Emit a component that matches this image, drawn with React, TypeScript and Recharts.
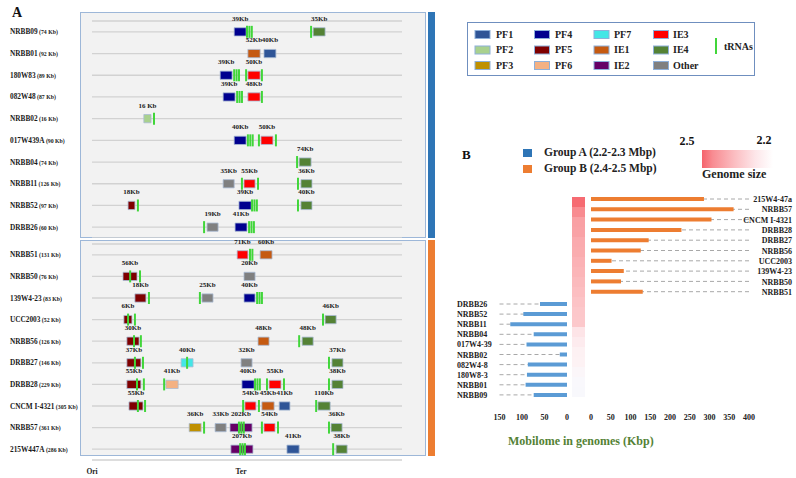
import React from 'react';
import { ComposedChart, BarChart, Bar, Scatter, XAxis, YAxis, CartesianGrid, ReferenceArea } from 'recharts';

const FONT = "'Liberation Serif', 'Times New Roman', serif";

// ---- panel A: strains in each box, top to bottom ----
const topNames = ['NRBB09', 'NRBB01', '180W83', '082W48', 'NRBB02', '017W439A', 'NRBB04', 'NRBB11', 'NRBB52', 'DRBB26'];
const topMobilome = [74, 92, 89, 87, 16, 90, 74, 126, 97, 60];
const topGenome = ['2.2', '2.2', '2.2', '2.2', '2.2', '2.3', '2.3', '2.3', '2.3', '2.3'];

const bottomNames = ['NRBB51', 'NRBB50', '139W4-23', 'UCC2003', 'NRBB56', 'DRBB27', 'DRBB28', 'CNCM I-4321', 'NRBB57', '215W447A'];
const bottomMobilome = [131, 76, 83, 52, 126, 146, 229, 305, 361, 286];
const bottomGenome = ['2.4', '2.4', '2.4', '2.4', '2.4', '2.4', '2.4', '2.4', '2.5', '2.5'];

// map position goes 0 (Ori) .. 50 (Ter) .. 104
const mapTicks = [0, 50];
const mapTickLabels = ['Ori', 'Ter'];

// mobile elements: row, start/end on the map, family, size label
const topBlocks = [
  { row: 0, start: 47.7, end: 51.7, family: 'PF4', label: '39Kb' },
  { row: 0, start: 74.2, end: 78.2, family: 'IE4', label: '35Kb' },
  { row: 1, start: 52.3, end: 56.4, family: 'IE1', label: '52Kb' },
  { row: 1, start: 57.7, end: 61.7, family: 'PF1', label: '40Kb' },
  { row: 2, start: 43.0, end: 47.0, family: 'PF4', label: '39Kb' },
  { row: 2, start: 52.3, end: 56.4, family: 'IE3', label: '50Kb' },
  { row: 3, start: 44.0, end: 48.0, family: 'PF4', label: '39Kb' },
  { row: 3, start: 52.3, end: 56.4, family: 'IE3', label: '48Kb' },
  { row: 4, start: 17.4, end: 19.8, family: 'PF2', label: '16 Kb' },
  { row: 5, start: 47.7, end: 51.7, family: 'PF4', label: '40Kb' },
  { row: 5, start: 56.7, end: 60.7, family: 'IE3', label: '50Kb' },
  { row: 6, start: 69.5, end: 73.5, family: 'IE4', label: '74Kb' },
  { row: 7, start: 44.0, end: 47.7, family: 'Other', label: '35Kb' },
  { row: 7, start: 51.0, end: 54.7, family: 'IE3', label: '55Kb' },
  { row: 7, start: 70.1, end: 73.8, family: 'IE4', label: '36Kb' },
  { row: 8, start: 12.1, end: 14.4, family: 'PF5', label: '18Kb' },
  { row: 8, start: 49.3, end: 53.4, family: 'PF4', label: '39Kb' },
  { row: 8, start: 70.1, end: 73.8, family: 'IE4', label: '40Kb' },
  { row: 9, start: 38.6, end: 42.3, family: 'Other', label: '19Kb' },
  { row: 9, start: 48.0, end: 52.0, family: 'PF4', label: '41Kb' },
];

const bottomBlocks = [
  { row: 0, start: 48.7, end: 52.3, family: 'IE3', label: '71Kb' },
  { row: 0, start: 56.4, end: 60.4, family: 'IE1', label: '60Kb' },
  { row: 1, start: 10.4, end: 15.1, family: 'PF5', label: '56Kb' },
  { row: 1, start: 51.0, end: 54.7, family: 'Other', label: '20Kb' },
  { row: 2, start: 14.4, end: 18.1, family: 'PF5', label: '18Kb' },
  { row: 2, start: 36.9, end: 40.6, family: 'Other', label: '25Kb' },
  { row: 2, start: 51.0, end: 54.7, family: 'PF4', label: '40Kb' },
  { row: 3, start: 10.7, end: 13.4, family: 'PF5', label: '6Kb' },
  { row: 3, start: 78.2, end: 81.9, family: 'IE4', label: '46Kb' },
  { row: 4, start: 11.7, end: 15.8, family: 'PF5', label: '30Kb' },
  { row: 4, start: 55.7, end: 59.4, family: 'IE1', label: '48Kb' },
  { row: 4, start: 70.5, end: 74.2, family: 'IE4', label: '48Kb' },
  { row: 5, start: 11.7, end: 16.4, family: 'PF5', label: '37Kb' },
  { row: 5, start: 29.9, end: 33.9, family: 'PF7', label: '40Kb' },
  { row: 5, start: 50.0, end: 53.7, family: 'Other', label: '32Kb' },
  { row: 5, start: 80.5, end: 84.2, family: 'IE4', label: '37Kb' },
  { row: 6, start: 11.7, end: 16.4, family: 'PF5', label: '55Kb' },
  { row: 6, start: 24.8, end: 28.9, family: 'PF6', label: '41Kb' },
  { row: 6, start: 50.3, end: 54.4, family: 'PF4', label: '40Kb' },
  { row: 6, start: 59.4, end: 63.4, family: 'IE3', label: '55Kb' },
  { row: 6, start: 80.5, end: 84.2, family: 'IE4', label: '38Kb' },
  { row: 7, start: 12.4, end: 17.1, family: 'PF5', label: '55Kb' },
  { row: 7, start: 51.3, end: 55.0, family: 'IE3', label: '54Kb' },
  { row: 7, start: 57.0, end: 61.1, family: 'IE1', label: '45Kb' },
  { row: 7, start: 62.8, end: 66.4, family: 'PF1', label: '41Kb' },
  { row: 7, start: 75.8, end: 79.9, family: 'IE4', label: '110Kb' },
  { row: 8, start: 32.6, end: 36.6, family: 'PF3', label: '36Kb' },
  { row: 8, start: 41.3, end: 45.0, family: 'Other', label: '33Kb' },
  { row: 8, start: 46.3, end: 53.7, family: 'IE2', label: '202Kb' },
  { row: 8, start: 57.7, end: 61.4, family: 'IE3', label: '54Kb' },
  { row: 8, start: 80.2, end: 83.9, family: 'IE4', label: '36Kb' },
  { row: 9, start: 46.6, end: 54.0, family: 'IE2', label: '207Kb' },
  { row: 9, start: 65.4, end: 69.5, family: 'PF1', label: '41Kb' },
  { row: 9, start: 81.9, end: 85.6, family: 'IE4', label: '38Kb' },
];

// tRNA loci (n = tRNAs side by side)
const topTrnas = [
  { row: 0, pos: 52.0, n: 3 }, { row: 0, pos: 73.5, n: 1 },
  { row: 2, pos: 47.7, n: 3 }, { row: 2, pos: 51.7, n: 1 }, { row: 2, pos: 57.0, n: 1 },
  { row: 3, pos: 48.7, n: 3 }, { row: 3, pos: 57.0, n: 1 },
  { row: 4, pos: 20.8, n: 1 },
  { row: 5, pos: 52.3, n: 3 }, { row: 5, pos: 56.0, n: 1 }, { row: 5, pos: 61.7, n: 1 },
  { row: 6, pos: 68.8, n: 1 },
  { row: 7, pos: 50.3, n: 1 }, { row: 7, pos: 55.7, n: 1 }, { row: 7, pos: 69.1, n: 1 },
  { row: 8, pos: 15.4, n: 1 }, { row: 8, pos: 53.7, n: 3 }, { row: 8, pos: 69.1, n: 1 },
  { row: 9, pos: 37.6, n: 1 }, { row: 9, pos: 52.7, n: 3 },
];

const bottomTrnas = [
  { row: 0, pos: 53.0, n: 2 },
  { row: 1, pos: 12.8, n: 1 }, { row: 1, pos: 16.1, n: 1 },
  { row: 2, pos: 19.1, n: 1 }, { row: 2, pos: 36.2, n: 1 }, { row: 2, pos: 55.4, n: 3 },
  { row: 3, pos: 12.1, n: 1 }, { row: 3, pos: 14.4, n: 1 }, { row: 3, pos: 77.5, n: 1 },
  { row: 4, pos: 14.1, n: 1 }, { row: 4, pos: 16.4, n: 1 }, { row: 4, pos: 69.5, n: 1 },
  { row: 5, pos: 14.4, n: 1 }, { row: 5, pos: 17.1, n: 1 }, { row: 5, pos: 31.9, n: 1 }, { row: 5, pos: 79.5, n: 1 },
  { row: 6, pos: 15.1, n: 1 }, { row: 6, pos: 17.4, n: 1 }, { row: 6, pos: 24.2, n: 1 }, { row: 6, pos: 54.7, n: 3 },
  { row: 6, pos: 58.7, n: 1 }, { row: 6, pos: 64.4, n: 1 }, { row: 6, pos: 79.5, n: 1 },
  { row: 7, pos: 15.4, n: 1 }, { row: 7, pos: 17.8, n: 1 }, { row: 7, pos: 50.7, n: 1 }, { row: 7, pos: 56.0, n: 1 }, { row: 7, pos: 75.2, n: 1 },
  { row: 8, pos: 37.6, n: 1 }, { row: 8, pos: 49.3, n: 3 }, { row: 8, pos: 57.0, n: 1 }, { row: 8, pos: 62.4, n: 1 }, { row: 8, pos: 79.5, n: 1 },
  { row: 9, pos: 49.7, n: 3 }, { row: 9, pos: 80.9, n: 1 },
];

const rowTicks = [0, 1, 2, 3, 4, 5, 6, 7, 8, 9];

// ---- panel B ----
const groupBNames = ['215W4-47a', 'NRBB57', 'CNCM  I-4321', 'DRBB28', 'DRBB27', 'NRBB56', 'UCC2003', '139W4-23', 'NRBB50', 'NRBB51'];
const groupBMobilome = [286, 361, 305, 229, 146, 126, 52, 83, 76, 131];
const groupBGenome = [2.5, 2.5, 2.4, 2.4, 2.4, 2.4, 2.4, 2.4, 2.4, 2.4];

const groupANames = ['DRBB26', 'NRBB52', 'NRBB11', 'NRBB04', '017W4-39', 'NRBB02', '082W4-8', '180W8-3', 'NRBB01', 'NRBB09'];
const groupAMobilome = [60, 97, 126, 74, 90, 16, 87, 89, 92, 74];
const groupAGenome = [2.3, 2.3, 2.3, 2.3, 2.3, 2.2, 2.2, 2.2, 2.2, 2.2];

const leftTicks = [0, 50, 100, 150];
const rightTicks = [0, 50, 100, 150, 200, 250, 300, 350, 400];

// styles
const familyColors: Record<string, string> = {
  PF1: '#2F5597', PF2: '#A9D18E', PF3: '#BF9000', PF4: '#00008F',
  PF5: '#7F0000', PF6: '#F4B183', PF7: '#44E6E6', IE1: '#C55A11',
  IE2: '#660066', IE3: '#FF0000', IE4: '#548235', Other: '#808080',
};
const legendColumns = [['PF1', 'PF2', 'PF3'], ['PF4', 'PF5', 'PF6'], ['PF7', 'IE1', 'IE2'], ['IE3', 'IE4', 'Other']];
const TRNA = '#41D63A';
const heatColors = [
  '#F66B72', '#F88B90', '#F9A0A4', '#F9A2A6', '#FAAAAE', '#FAACAF', '#FBB1B5', '#FBB5B8', '#FBBABD', '#FCBEC1',
  '#FCC3C6', '#FCC7CA', '#FCC8CB', '#FDE4E7', '#FDEBEE', '#FDF1F3', '#FDF2F4', '#FBF6F9', '#F9F8FC', '#F8F8FC',
];

function RowLabel(props: any) {
  const { y, payload, names, mobilome } = props;
  const i = payload.value;
  return (
    <text x={10} y={y} dy={2.5} fontFamily={FONT} fontWeight={700} fill="#1a1a1a">
      <tspan fontSize={7.3}>{names[i]}</tspan>
      <tspan fontSize={5.8}>{` (${mobilome[i]} Kb)`}</tspan>
    </text>
  );
}

function TrnaMark(props: any) {
  const { cx, cy, payload } = props;
  const lines = [];
  for (let i = 0; i < payload.n; i++) {
    const x = cx + i * 2.4;
    lines.push(<line key={i} x1={x} x2={x} y1={cy - 6} y2={cy + 6} stroke={TRNA} strokeWidth={2} />);
  }
  return <g>{lines}</g>;
}

function GenomeMap({ names, mobilome, genome, blocks, trnas, height, marginTop, showOriTer }: any) {
  return (
    <ComposedChart width={440} height={height} margin={{ top: marginTop, right: 0, bottom: 0, left: 0 }}>
      <CartesianGrid yAxisId="left" vertical={false} stroke="#d2d2d2" strokeWidth={1.3} />
      <XAxis
        type="number"
        dataKey="pos"
        domain={[0, 104]}
        ticks={mapTicks}
        interval={0}
        hide={!showOriTer}
        height={24}
        axisLine={false}
        tickLine={false}
        tickSize={0}
        tickMargin={9}
        tickFormatter={(v: number) => mapTickLabels[mapTicks.indexOf(v)]}
        tick={{ fontSize: 7.5, fontWeight: 700, fill: '#222', fontFamily: FONT }}
      />
      <YAxis
        yAxisId="left"
        type="number"
        dataKey="row"
        domain={[-0.5, 9.5]}
        reversed
        ticks={rowTicks}
        interval={0}
        width={92}
        axisLine={false}
        tickLine={false}
        tick={<RowLabel names={names} mobilome={mobilome} />}
      />
      <YAxis
        yAxisId="right"
        orientation="right"
        type="number"
        domain={[-0.5, 9.5]}
        reversed
        ticks={rowTicks}
        interval={0}
        width={38}
        axisLine={false}
        tickLine={false}
        tickSize={0}
        tickMargin={8}
        tickFormatter={(v: number) => genome[v]}
        tick={{ fontSize: 6, fontWeight: 700, fill: '#333', fontFamily: FONT }}
      />
      {blocks.map((b: any, i: number) => (
        <ReferenceArea
          key={i}
          yAxisId="left"
          x1={b.start}
          x2={b.end}
          y1={b.row - 0.19}
          y2={b.row + 0.19}
          fill={familyColors[b.family]}
          fillOpacity={1}
          stroke="#a9bbd4"
          strokeWidth={0.8}
          ifOverflow="visible"
          label={{ value: b.label, position: 'top', offset: 7, fontSize: 7, fontWeight: 700, fill: '#1a1a1a', fontFamily: FONT }}
        />
      ))}
      <Scatter yAxisId="left" data={trnas} shape={<TrnaMark />} isAnimationActive={false} />
    </ComposedChart>
  );
}

function DashGuide(props: any) {
  const { x, y, width, height } = props;
  const my = y + height / 2;
  return <line x1={x} x2={x + width} y1={my} y2={my} stroke="#a8a8a8" strokeWidth={1} strokeDasharray="4 3" />;
}

function NameTick(props: any) {
  const { x, y, payload, anchor, shift } = props;
  return (
    <text x={x + shift} y={y} dy={3} textAnchor={anchor} fontSize={8} fontWeight={700} fontFamily={FONT} fill="#222">
      {payload.value}
    </text>
  );
}

function HeatCell(props: any) {
  const { background, x, y, height, index } = props;
  const bx = background ? background.x : x;
  const bw = background ? background.width : 13;
  return <rect x={bx} y={y} width={bw} height={height} fill={heatColors[index]} />;
}

const axisTick = { fontSize: 8, fontWeight: 700, fill: '#222', fontFamily: FONT };

export default function App() {
  const groupA = groupANames.map((name, i) => ({ name, kb: groupAMobilome[i] }));
  const groupB = groupBNames.map((name, i) => ({ name, kb: groupBMobilome[i] }));
  const heat = [
    ...groupBNames.map((name, i) => ({ name, size: groupBGenome[i] })),
    ...groupANames.map((name, i) => ({ name, size: groupAGenome[i] })),
  ];

  return (
    <div style={{ position: 'absolute', left: 0, top: 0, width: 796, height: 478, background: '#fff', fontFamily: FONT }}>
      <svg width={796} height={478} style={{ position: 'absolute', left: 0, top: 0 }}>
        <defs>
          <linearGradient id="genomeSize" x1="0" x2="1" y1="0" y2="0">
            <stop offset="0" stopColor="#F5636C" />
            <stop offset="0.15" stopColor="#F88C92" />
            <stop offset="0.45" stopColor="#FBBCC0" />
            <stop offset="0.75" stopColor="#FDE6E9" />
            <stop offset="1" stopColor="#FFFFFF" />
          </linearGradient>
        </defs>
        <text x={12} y={17} fontSize={14} fontWeight={700} fill="#111">A</text>
        <rect x={80.5} y={12.5} width={345} height={225} fill="#F2F2F2" stroke="#9DB7D8" />
        <rect x={428} y={12} width={7} height={226} fill="#2E75B6" />
        <rect x={80.5} y={240.5} width={345} height={215} fill="#F2F2F2" stroke="#9DB7D8" />
        <rect x={428} y={240} width={7} height={216} fill="#ED7D31" />

        <rect x={467.5} y={22.5} width={287} height={53} fill="#fff" stroke="#6F8FBF" />
        {legendColumns.map((col, c) =>
          col.map((fam, r) => (
            <g key={fam}>
              <rect x={475 + c * 59.5} y={30.5 + r * 15.5} width={15} height={8} fill={familyColors[fam]} stroke="#8EB0DA" strokeWidth={1} />
              <text x={496 + c * 59} y={37.5 + r * 15.5} fontSize={10} fontWeight={700} fill="#222">{fam}</text>
            </g>
          ))
        )}
        <line x1={716} x2={716} y1={38} y2={54} stroke={TRNA} strokeWidth={2} />
        <text x={724} y={49.5} fontSize={10} fontWeight={700} fill="#222">tRNAs</text>

        <text x={462} y={158.5} fontSize={13} fontWeight={700} fill="#111">B</text>
        <rect x={523} y={149} width={9} height={8} fill="#2E75B6" />
        <text x={544} y={156} fontSize={11.5} fontWeight={700} fill="#222">Group A (2.2-2.3 Mbp)</text>
        <rect x={523} y={165} width={9} height={8} fill="#ED7D31" />
        <text x={544} y={172} fontSize={11.5} fontWeight={700} fill="#222">Group B (2.4-2.5 Mbp)</text>
        <text x={687} y={145} fontSize={12} fontWeight={700} fill="#111" textAnchor="middle">2.5</text>
        <text x={764} y={144} fontSize={12} fontWeight={700} fill="#111" textAnchor="middle">2.2</text>
        <rect x={702} y={150} width={71} height={18} fill="url(#genomeSize)" />
        <text x={702} y={178} fontSize={12} fontWeight={700} fill="#222">Genome size</text>
        <text x={508} y={445} fontSize={12} fontWeight={700} fill="#548235">Mobilome in genomes (Kbp)</text>
      </svg>

      <div style={{ position: 'absolute', left: 0, top: 12 }}>
        <GenomeMap names={topNames} mobilome={topMobilome} genome={topGenome} blocks={topBlocks} trnas={topTrnas} height={226} marginTop={9} showOriTer={false} />
      </div>
      <div style={{ position: 'absolute', left: 0, top: 228 }}>
        <GenomeMap names={bottomNames} mobilome={bottomMobilome} genome={bottomGenome} blocks={bottomBlocks} trnas={bottomTrnas} height={256} marginTop={16} showOriTer />
      </div>

      <div style={{ position: 'absolute', left: 450, top: 299 }}>
        <BarChart width={127} height={131} layout="vertical" data={groupA} margin={{ top: 0, right: 10, bottom: 0, left: 0 }} barCategoryGap={0}>
          <XAxis type="number" domain={[0, 150]} reversed ticks={leftTicks} interval={0} height={30} axisLine={false} tickLine={false} tickSize={0} tickMargin={14} tick={axisTick} />
          <YAxis type="category" dataKey="name" width={49.5} axisLine={false} tickLine={false} tickSize={0} tickMargin={0} interval={0} tick={<NameTick anchor="start" shift={-42.5} />} />
          <Bar dataKey="kb" fill="#5B9BD5" barSize={4} background={<DashGuide />} isAnimationActive={false} />
        </BarChart>
      </div>

      <div style={{ position: 'absolute', left: 572, top: 197 }}>
        <BarChart width={13} height={200} layout="vertical" data={heat} margin={{ top: 0, right: 0, bottom: 0, left: 0 }} barCategoryGap={0}>
          <XAxis type="number" domain={[0, 2.5]} hide />
          <YAxis type="category" dataKey="name" hide />
          <Bar dataKey="size" shape={<HeatCell />} isAnimationActive={false} />
        </BarChart>
      </div>

      <div style={{ position: 'absolute', left: 581, top: 194 }}>
        <BarChart width={214} height={233} layout="vertical" data={groupB} margin={{ top: 0, right: 0, bottom: 0, left: 10 }} barCategoryGap={0}>
          <XAxis type="number" domain={[0, 400]} ticks={rightTicks} interval={0} height={130} axisLine={false} tickLine={false} tickSize={0} tickMargin={117} tick={axisTick} />
          <YAxis type="category" dataKey="name" orientation="right" width={46} axisLine={false} tickLine={false} tickSize={0} tickMargin={0} interval={0} tick={<NameTick anchor="end" shift={43} />} />
          <Bar dataKey="kb" fill="#ED7D31" barSize={4} background={<DashGuide />} isAnimationActive={false} />
        </BarChart>
      </div>
    </div>
  );
}
